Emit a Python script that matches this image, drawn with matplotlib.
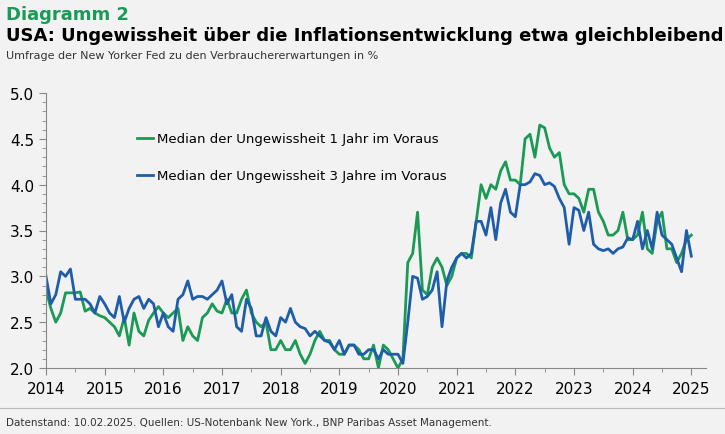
import numpy as np
import matplotlib.pyplot as plt
from matplotlib.ticker import MultipleLocator

# monthly values Jan 2014 .. Jan 2025
one_year = [2.85, 2.65, 2.5, 2.6, 2.82, 2.82, 2.82, 2.83, 2.62, 2.65, 2.6, 2.57,
            2.55, 2.5, 2.45, 2.35, 2.55, 2.25, 2.6, 2.4, 2.35, 2.52, 2.6, 2.67,
            2.6, 2.55, 2.6, 2.65, 2.3, 2.45, 2.35, 2.3, 2.55, 2.6, 2.7, 2.62,
            2.6, 2.75, 2.6, 2.6, 2.75, 2.85, 2.6, 2.5, 2.45, 2.5, 2.2, 2.2,
            2.3, 2.2, 2.2, 2.3, 2.15, 2.05, 2.15, 2.3, 2.4, 2.3, 2.3, 2.2,
            2.15, 2.15, 2.25, 2.25, 2.2, 2.1, 2.1, 2.25, 2.0, 2.25, 2.2, 2.1,
            2.0, 2.1, 3.15, 3.25, 3.7, 2.85, 2.8, 3.1, 3.2, 3.1, 2.9, 3.0,
            3.2, 3.25, 3.25, 3.2, 3.6, 4.0, 3.85, 4.0, 3.95, 4.15, 4.25, 4.05,
            4.05, 4.0, 4.5, 4.55, 4.3, 4.65, 4.62, 4.4, 4.3, 4.35, 4.0, 3.9,
            3.9, 3.85, 3.7, 3.95, 3.95, 3.7, 3.6, 3.45, 3.45, 3.5, 3.7, 3.4,
            3.4, 3.45, 3.7, 3.3, 3.25, 3.6, 3.7, 3.3, 3.3, 3.15, 3.25, 3.4,
            3.45]
three_years = [3.0, 2.7, 2.8, 3.05, 3.0, 3.08, 2.75, 2.75, 2.75, 2.7, 2.6, 2.78,
               2.7, 2.6, 2.55, 2.78, 2.5, 2.65, 2.75, 2.78, 2.65, 2.75, 2.7, 2.45,
               2.6, 2.45, 2.4, 2.75, 2.8, 2.95, 2.75, 2.78, 2.78, 2.75, 2.8, 2.85,
               2.95, 2.7, 2.8, 2.45, 2.4, 2.75, 2.65, 2.35, 2.35, 2.55, 2.4, 2.35,
               2.55, 2.5, 2.65, 2.5, 2.45, 2.43, 2.35, 2.4, 2.35, 2.3, 2.28, 2.2,
               2.3, 2.15, 2.25, 2.25, 2.15, 2.15, 2.2, 2.2, 2.1, 2.2, 2.15, 2.15,
               2.15, 2.05, 2.5, 3.0, 2.98, 2.75, 2.78, 2.85, 3.05, 2.45, 2.95, 3.1,
               3.2, 3.25, 3.2, 3.25, 3.6, 3.6, 3.45, 3.75, 3.4, 3.8, 3.95, 3.7,
               3.65, 4.0, 4.0, 4.03, 4.12, 4.1, 4.0, 4.02, 3.98, 3.85, 3.75, 3.35,
               3.75, 3.72, 3.5, 3.7, 3.35, 3.3, 3.28, 3.3, 3.25, 3.3, 3.32, 3.42,
               3.4, 3.6, 3.3, 3.5, 3.3, 3.7, 3.45, 3.4, 3.35, 3.2, 3.05, 3.5,
               3.22]
years = [2014, 2015, 2016, 2017, 2018, 2019, 2020, 2021, 2022, 2023, 2024, 2025]

t1 = 2014 + np.arange(len(one_year)) / 12
t3 = 2014 + np.arange(len(three_years)) / 12
bg = '#f2f2f2'
green = '#1a9a55'
blue = '#1f5dab'

fig = plt.figure(figsize=(7.25, 4.35), dpi=100, facecolor=bg)
ax = fig.add_axes([46/725, 1 - 369/435, 660/725, 275/435], facecolor=bg)
ax.plot(t1, one_year, color=green, lw=2, label='Median der Ungewissheit 1 Jahr im Voraus')
ax.plot(t3, three_years, color=blue, lw=2, label='Median der Ungewissheit 3 Jahre im Voraus')

ax.set_xlim(2014, 2025.25)
ax.set_ylim(2.0, 5.0)
ax.set_xticks(years)
ax.set_yticks(np.arange(2.0, 5.01, 0.5))
ax.set_yticklabels([f'{v:.1f}' for v in np.arange(2.0, 5.01, 0.5)])
ax.xaxis.set_minor_locator(MultipleLocator(0.5))
ax.yaxis.set_minor_locator(MultipleLocator(0.1))
for s in ['top', 'right']:
    ax.spines[s].set_visible(False)
for s in ['left', 'bottom']:
    ax.spines[s].set_color('#888888')
ax.tick_params(colors='#888888', labelcolor='black', labelsize=11, direction='out', length=5)
ax.tick_params(which='minor', colors='#888888', length=3)
ax.tick_params(axis='x', pad=4)

leg = ax.legend(loc='upper left', bbox_to_anchor=(0.12, 0.9), frameon=False,
                fontsize=9.5, handlelength=1.2, handletextpad=0.3, labelspacing=1.8)

fig.text(0.008, 0.955, 'Diagramm 2', color=green, fontsize=13, fontweight='bold')
fig.text(0.008, 0.905, 'USA: Ungewissheit über die Inflationsentwicklung etwa gleichbleibend',
         fontsize=13, fontweight='bold')
fig.text(0.008, 0.865, 'Umfrage der New Yorker Fed zu den Verbrauchererwartungen in %',
         fontsize=8, color='#333333')
fig.add_artist(plt.Line2D([0, 1], [0.06, 0.06], color='#bbbbbb', lw=0.8))
fig.text(0.008, 0.02, 'Datenstand: 10.02.2025. Quellen: US-Notenbank New York., BNP Paribas Asset Management.',
         fontsize=7.5, color='#333333')

fig.savefig('out.png', dpi=100, facecolor=bg)
